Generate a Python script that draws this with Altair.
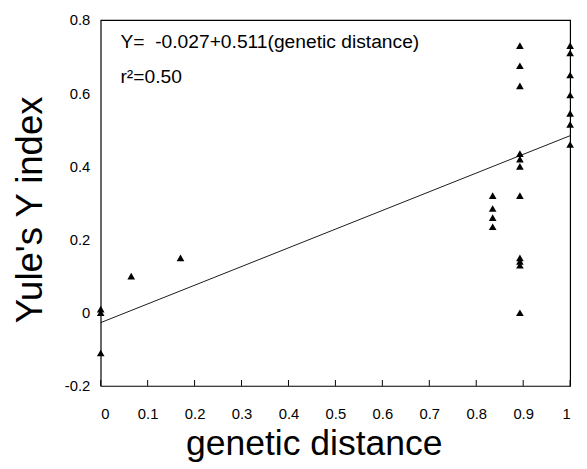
import altair as alt
import pandas as pd

genetic_distance = [0, 0, 0, 0.065, 0.17,
                    0.835, 0.835, 0.835, 0.835,
                    0.893, 0.893, 0.893, 0.893, 0.893, 0.893, 0.893, 0.893, 0.893, 0.893, 0.893,
                    1, 1, 1, 1, 1, 1, 1]
yules_y = [0.01, 0.0, -0.11, 0.10, 0.15,
           0.32, 0.285, 0.26, 0.235,
           0.73, 0.675, 0.62, 0.435, 0.42, 0.40, 0.32, 0.15, 0.14, 0.13, 0.0,
           0.73, 0.71, 0.65, 0.595, 0.545, 0.515, 0.46]
intercept = -0.027
slope = 0.511
x_ticks = [0, 0.1, 0.2, 0.3, 0.4, 0.5, 0.6, 0.7, 0.8, 0.9, 1]
y_ticks = [-0.2, 0, 0.2, 0.4, 0.6, 0.8]
equation_text = "Y=\u00a0\u00a0-0.027+0.511(genetic distance)"
r2_text = "r\u00b2=0.50"

pts = pd.DataFrame({"x": genetic_distance, "y": yules_y})
line_df = pd.DataFrame({"x": [0, 1], "y": [intercept, intercept + slope]})
tick_df = pd.DataFrame({"x": x_ticks})

FONT = "Liberation Sans"

xscale = alt.Scale(domain=[0, 1], nice=False, zero=False)
yscale = alt.Scale(domain=[-0.2, 0.8], nice=False, zero=False)

xaxis = alt.Axis(values=x_ticks, labelExpr="datum.value == 0 ? '0' : datum.value == 1 ? '1' : format(datum.value, '.1f')",
                 title="genetic distance", titleFontSize=36, titleFontWeight="normal", titleFont=FONT,
                 titleX=216, titleY=70, titleBaseline="alphabetic",
                 labelFont=FONT, labelFontSize=15, labelPadding=21,
                 grid=False, ticks=False, domain=False, labelColor="black", titleColor="black")
yaxis = alt.Axis(values=y_ticks,
                 labelExpr="datum.value == 0 ? '0' : datum.value < 0 ? '-' + format(-datum.value, '.1f') : format(datum.value, '.1f')",
                 title="Yule's Y index", titleFontSize=37, titleFontWeight="normal", titleFont=FONT,
                 titleX=-60, titleY=192, titleBaseline="alphabetic",
                 labelFont=FONT, labelFontSize=15, labelPadding=11,
                 grid=False, ticks=False, domain=False, labelColor="black", titleColor="black")

points = alt.Chart(pts).mark_point(shape="triangle-up", filled=True, color="black", size=60, opacity=1).encode(
    x=alt.X("x:Q", scale=xscale, axis=xaxis),
    y=alt.Y("y:Q", scale=yscale, axis=yaxis),
)

reg = alt.Chart(line_df).mark_line(color="black", strokeWidth=0.9).encode(
    x=alt.X("x:Q", scale=xscale, axis=xaxis),
    y=alt.Y("y:Q", scale=yscale, axis=yaxis),
)

ticks = alt.Chart(tick_df).mark_rule(color="black", strokeWidth=1).encode(
    x=alt.X("x:Q", scale=xscale, axis=xaxis),
    y=alt.value(371), y2=alt.value(365),
)

eq = alt.Chart(pd.DataFrame({"t": [equation_text]})).mark_text(
    align="left", baseline="alphabetic", font=FONT, fontSize=19.5, color="black").encode(
    x=alt.value(20), y=alt.value(28), text="t:N")
r2 = alt.Chart(pd.DataFrame({"t": [r2_text]})).mark_text(
    align="left", baseline="alphabetic", font=FONT, fontSize=19.5, color="black").encode(
    x=alt.value(20), y=alt.value(64), text="t:N")

chart = alt.layer(ticks, reg, points, eq, r2).properties(
    width=476, height=371,
    autosize=alt.AutoSizeParams(type="none"),
    padding={"left": 94, "top": 9, "right": 9, "bottom": 81},
).configure_view(stroke="black", strokeWidth=1.2)

chart.save("out.html", embed_options={"renderer": "svg", "actions": False})
